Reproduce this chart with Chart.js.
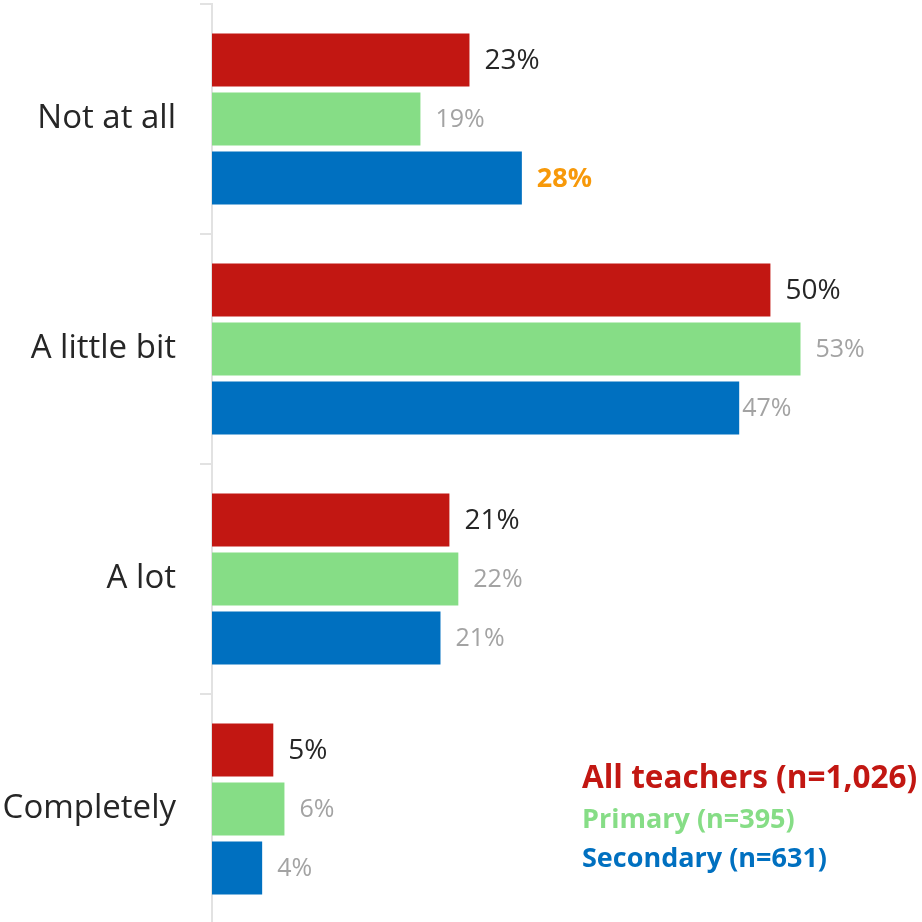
<!DOCTYPE html>
<html>
<head>
<meta charset="utf-8">
<script src="https://cdn.jsdelivr.net/npm/chart.js@4.4.1/dist/chart.umd.min.js"></script>
<style>
  html, body { margin: 0; padding: 0; background: #fff; overflow: hidden; }
  canvas { display: block; }
</style>
</head>
<body>
<canvas id="chart" width="922" height="926"></canvas>
<script>
// Categories and series (percent of teachers)
const categories = ['Not at all', 'A little bit', 'A lot', 'Completely'];
const allTeachers = [23.1, 50.1, 21.3, 5.5];
const primary = [18.7, 52.8, 22.1, 6.5];
const secondary = [27.8, 47.3, 20.5, 4.5];

// Printed labels on the bars
const allLabels = ['23%', '50%', '21%', '5%'];
const primaryLabels = ['19%', '53%', '22%', '6%'];
const secondaryLabels = ['28%', '47%', '21%', '4%'];

const seriesNames = ['All teachers (n=1,026)', 'Primary (n=395)', 'Secondary (n=631)'];

const RED = '#c21712';
const GREEN = '#86dd86';
const BLUE = '#0070c0';
const FONT = '"Open Sans", "DejaVu Sans", sans-serif';

// Draw value labels next to each bar
const valueLabels = {
    id: 'valueLabels',
    afterDatasetsDraw(chart) {
        const ctx = chart.ctx;
        const texts = [allLabels, primaryLabels, secondaryLabels];
        ctx.save();
        ctx.textBaseline = 'middle';
        ctx.textAlign = 'left';
        chart.data.datasets.forEach((ds, di) => {
            chart.getDatasetMeta(di).data.forEach((bar, i) => {
                let gap = 15;
                if (di === 0) {
                    ctx.font = '28px ' + FONT;
                    ctx.fillStyle = '#262626';
                } else if (di === 2 && i === 0) {
                    ctx.font = 'bold 27px ' + FONT;
                    ctx.fillStyle = '#f7990a';
                } else {
                    ctx.font = '25px ' + FONT;
                    ctx.fillStyle = '#a3a3a3';
                }
                // the 47% label sits tight against its bar in the original
                if (di === 2 && i === 1) gap = 3;
                ctx.fillText(texts[di][i], bar.x + gap, bar.y + 1);
            });
        });
        ctx.restore();
    }
};

// Text legend in the lower right corner
const textLegend = {
    id: 'textLegend',
    afterDraw(chart) {
        const ctx = chart.ctx;
        ctx.save();
        ctx.textAlign = 'left';
        ctx.textBaseline = 'alphabetic';
        ctx.font = 'bold 31.5px ' + FONT;
        ctx.fillStyle = RED;
        ctx.fillText(seriesNames[0], 582, 788);
        ctx.font = 'bold 27px ' + FONT;
        ctx.fillStyle = GREEN;
        ctx.fillText(seriesNames[1], 582, 828);
        ctx.fillStyle = BLUE;
        ctx.fillText(seriesNames[2], 582, 867);
        ctx.restore();
    }
};

const barStyle = {
    categoryPercentage: 0.77,
    barPercentage: 0.9,
    borderWidth: 0
};

new Chart(document.getElementById('chart').getContext('2d'), {
    type: 'bar',
    data: {
        labels: categories,
        datasets: [
            Object.assign({ label: seriesNames[0], data: allTeachers, backgroundColor: RED }, barStyle),
            Object.assign({ label: seriesNames[1], data: primary, backgroundColor: GREEN }, barStyle),
            Object.assign({ label: seriesNames[2], data: secondary, backgroundColor: BLUE }, barStyle)
        ]
    },
    options: {
        indexAxis: 'y',
        responsive: false,
        animation: false,
        devicePixelRatio: 1,
        layout: { padding: { top: 4, right: 0, bottom: 2, left: 0 } },
        plugins: {
            legend: { display: false },
            tooltip: { enabled: false }
        },
        scales: {
            x: {
                display: false,
                min: 0,
                max: 63.7
            },
            y: {
                afterFit(scale) {
                    scale.width = 212;
                    scale.paddingTop = 0;
                    scale.paddingBottom = 0;
                },
                border: { display: true, color: '#e2e2e2', width: 2 },
                grid: {
                    offset: true,
                    drawOnChartArea: false,
                    drawTicks: true,
                    tickLength: 12,
                    color: '#e2e2e2',
                    lineWidth: 2
                },
                ticks: {
                    color: '#262626',
                    padding: 24,
                    font: { family: FONT, size: 33 }
                }
            }
        }
    },
    plugins: [valueLabels, textLegend]
});
</script>
</body>
</html>
